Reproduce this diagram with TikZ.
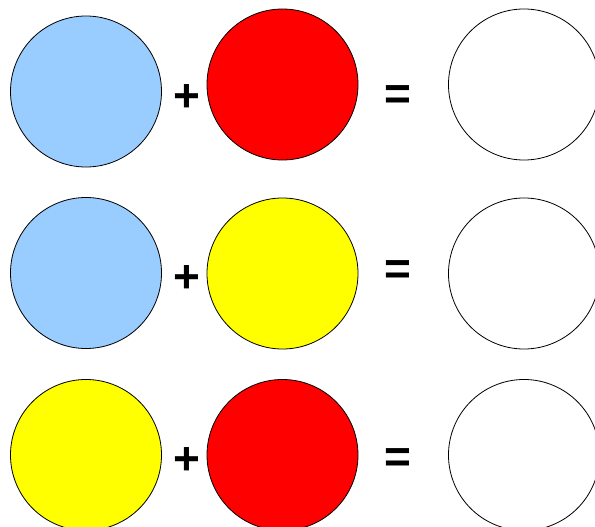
\documentclass[tikz,border=0pt]{standalone}
\usepackage{fontspec}
\setmainfont{Liberation Sans}
\definecolor{lblue}{HTML}{99CCFF}
\definecolor{pred}{HTML}{FF0000}
\definecolor{pyel}{HTML}{FFFF00}
\begin{document}
\begin{tikzpicture}[x=1pt,y=-1pt,
  disc/.style={circle,draw=black,line width=0.8pt,minimum size=151pt,inner sep=0pt},
  sym/.style={inner sep=0pt,font=\fontsize{46}{50}\selectfont\bfseries}]
\useasboundingbox (0,0) rectangle (595,527);
\node[disc,fill=lblue] (b1) at (86,91.5) {};
\node[disc,fill=pred] (r1) at (282.5,84.5) {};
\node[disc,fill=white] (w1) at (524,84.5) {};
\node[sym] (p1) at (186.5,98) {+};
\node[sym] (e1) at (398,97.5) {=};
\node[disc,fill=lblue] (b2) at (86,273) {};
\node[disc,fill=pyel] (y2) at (282.5,273.5) {};
\node[disc,fill=white] (w2) at (524,273.5) {};
\node[sym] (p2) at (186.5,279) {+};
\node[sym] (e2) at (398,272.5) {=};
\node[disc,fill=pyel] (y3) at (86,455) {};
\node[disc,fill=pred] (r3) at (282.5,455) {};
\node[disc,fill=white] (w3) at (524,455) {};
\node[sym] (p3) at (186.5,461) {+};
\node[sym] (e3) at (398,461) {=};
\end{tikzpicture}
\end{document}
